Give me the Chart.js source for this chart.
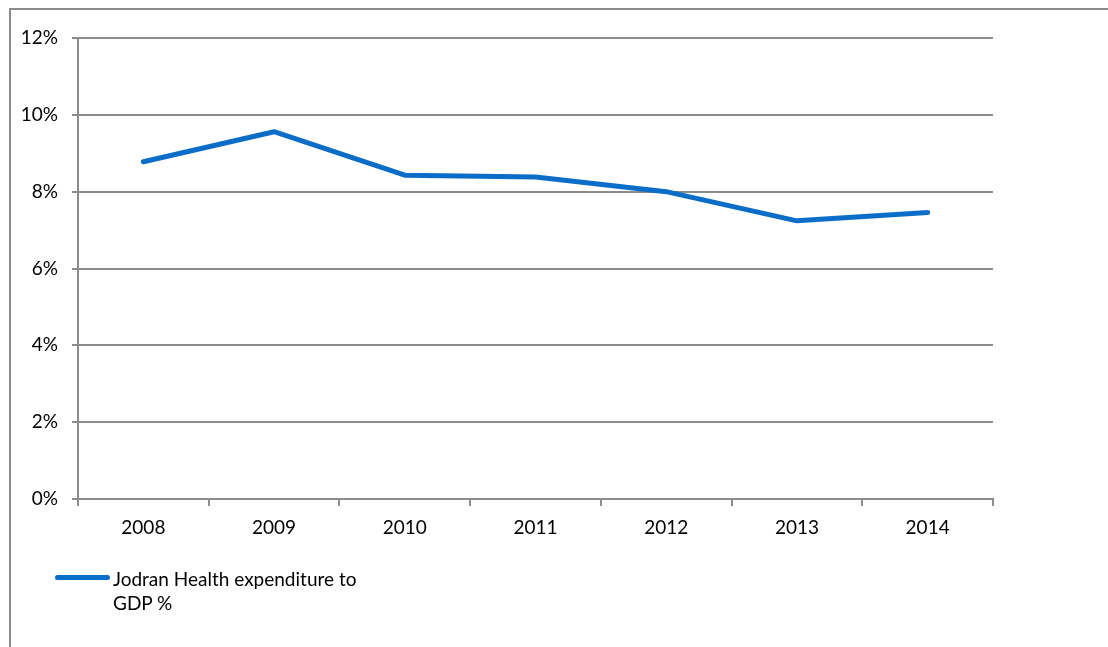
<!DOCTYPE html>
<html>
<head>
<meta charset="utf-8">
<script src="https://cdn.jsdelivr.net/npm/chart.js@4"></script>
<style>
  html, body { margin: 0; padding: 0; background: #fff; overflow: hidden; }
  #wrap { position: relative; width: 1108px; height: 647px; }
  #frame { position: absolute; left: 9px; top: 8px; width: 1200px; height: 700px;
           border-left: 2px solid #8c8c8c; border-top: 2px solid #8c8c8c; }
  #legend { position: absolute; left: 55px; top: 567px; font: 19px Lato, sans-serif; color: #000; }
  #legend .swatch { position: absolute; left: 0; top: 8px; width: 55px; height: 5px;
                    border-radius: 3px; background: #0a6ec8; }
  #legend .text { position: absolute; left: 58px; top: 0; width: 262px; line-height: 24px; }
</style>
</head>
<body>
<div id="wrap">
  <div id="frame"></div>
  <canvas id="myLineChart" width="1108" height="647"></canvas>
  <div id="legend"><div class="swatch"></div><div class="text" id="legendText"></div></div>
</div>
<script>
var years = ['2008', '2009', '2010', '2011', '2012', '2013', '2014'];
var healthPct = [8.78, 9.56, 8.43, 8.38, 8.00, 7.24, 7.46];
var seriesLabel = 'Jodran Health expenditure to GDP %';
var yTicks = [0, 2, 4, 6, 8, 10, 12];

var gridColor = '#8c8c8c';
document.getElementById('legendText').textContent = seriesLabel;

var ctxL = document.getElementById('myLineChart').getContext('2d');
var myLineChart = new Chart(ctxL, {
     type: 'line',
     data: {
          labels: years,
          datasets: [{
               label: seriesLabel,
               data: healthPct,
               borderColor: '#0a6ec8',
               backgroundColor: '#0a6ec8',
               borderWidth: 5,
               borderCapStyle: 'round',
               borderJoinStyle: 'round',
               pointRadius: 0,
               tension: 0
          }]
     },
     options: {
          responsive: false,
          animation: false,
          layout: { padding: { top: 38, right: 115, left: 0, bottom: 0 } },
          scales: {
               x: {
                    offset: true,
                    grid: { offset: true, drawOnChartArea: false, drawTicks: true, tickLength: 7, color: gridColor, lineWidth: 2 },
                    border: { color: gridColor, width: 2 },
                    ticks: { color: '#000', padding: 10, font: { family: 'Lato', size: 19 }, maxRotation: 0 },
                    afterFit: function (scale) { scale.height = 148; }
               },
               y: {
                    min: 0,
                    max: 12,
                    afterBuildTicks: function (scale) { scale.ticks = yTicks.map(function (v) { return { value: v }; }); },
                    grid: { drawTicks: true, tickLength: 6, color: gridColor, lineWidth: 2 },
                    border: { color: gridColor, width: 2 },
                    ticks: {
                         color: '#000', padding: 14, font: { family: 'Lato', size: 19 },
                         callback: function (v) { return v + '%'; }
                    },
                    afterFit: function (scale) { scale.width = 78; }
               }
          },
          plugins: {
               legend: { display: false },
               tooltip: { enabled: false }
          }
     }
});
</script>
</body>
</html>
